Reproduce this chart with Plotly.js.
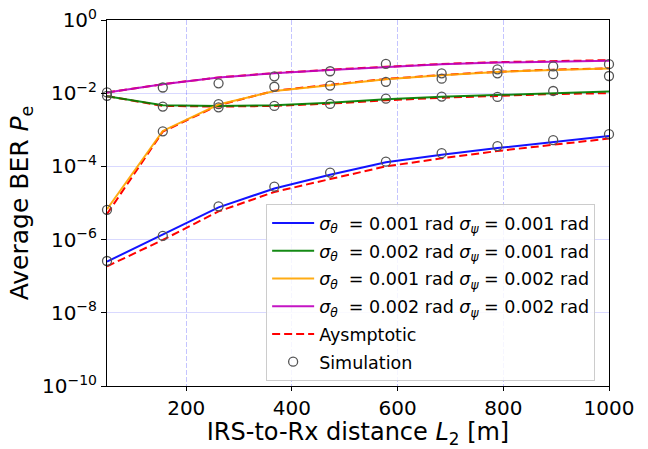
<!DOCTYPE html>
<html>
<head>
<meta charset="utf-8">
<script src="https://cdn.plot.ly/plotly-3.0.1.min.js"></script>
<style>html,body{margin:0;padding:0;background:#fff}#chart{width:648px;height:449px}</style>
</head>
<body>
<div id="chart"></div>
<script>
// IRS-to-Rx distance L2 [m]
const distance = [50, 155.6, 261.1, 366.7, 472.2, 577.8, 683.3, 788.9, 894.4, 1000];

// Analytical BER curves (solid lines)
const berA = [2.5e-7, 1.41e-6, 7.6e-6, 2.5e-5, 5.9e-5, 1.29e-4, 2.07e-4, 3.16e-4, 4.68e-4, 6.76e-4]; // 0.001 / 0.001
const berB = [8.3e-3, 4.7e-3, 4.5e-3, 4.7e-3, 5.5e-3, 6.8e-3, 8.0e-3, 8.8e-3, 1.0e-2, 1.11e-2];       // 0.002 / 0.001
const berC = [6.8e-6, 9.3e-4, 4.9e-3, 1.15e-2, 1.66e-2, 2.4e-2, 3.1e-2, 3.8e-2, 4.3e-2, 4.7e-2];      // 0.001 / 0.002
const berD = [1.05e-2, 1.76e-2, 2.69e-2, 3.51e-2, 4.32e-2, 5.25e-2, 6.17e-2, 6.87e-2, 7.2e-2, 7.7e-2]; // 0.002 / 0.002

// Asymptotic curves (red dashed)
const asymA = [1.86e-7, 9.8e-7, 5.9e-6, 2.0e-5, 4.5e-5, 1.0e-4, 1.66e-4, 2.63e-4, 3.9e-4, 5.75e-4];
const asymB = [8.3e-3, 4.5e-3, 4.3e-3, 4.5e-3, 5.2e-3, 6.4e-3, 7.5e-3, 8.4e-3, 9.5e-3, 1.0e-2];
const asymC = [5.0e-6, 8.9e-4, 4.7e-3, 1.17e-2, 1.7e-2, 2.45e-2, 3.15e-2, 3.85e-2, 4.4e-2, 4.8e-2];
const asymD = [1.05e-2, 1.76e-2, 2.7e-2, 3.55e-2, 4.4e-2, 5.35e-2, 6.3e-2, 7.05e-2, 7.5e-2, 8.0e-2];

// Simulation points (open circles)
const simA = [2.6e-7, 1.26e-6, 8.1e-6, 2.8e-5, 6.8e-5, 1.35e-4, 2.3e-4, 3.6e-4, 5.2e-4, 7.6e-4];
const simB = [8.5e-3, 4.3e-3, 4.1e-3, 4.5e-3, 5.1e-3, 7.1e-3, 8.1e-3, 7.9e-3, 1.15e-2, null];
const simC = [6.5e-6, 9.1e-4, 5.0e-3, 1.5e-2, 1.62e-2, 2.04e-2, 2.5e-2, 3.5e-2, 3.3e-2, 2.95e-2];
const simD = [1.05e-2, 1.43e-2, 1.86e-2, 2.9e-2, 3.98e-2, 6.3e-2, 3.5e-2, 4.5e-2, 5.4e-2, 6.2e-2];

const seriesLabels = [
  '<i>σ</i><sub><i>θ</i></sub>  = 0.001 rad <i>σ</i><sub><i>ψ</i></sub> = 0.001 rad',
  '<i>σ</i><sub><i>θ</i></sub>  = 0.002 rad <i>σ</i><sub><i>ψ</i></sub> = 0.001 rad',
  '<i>σ</i><sub><i>θ</i></sub>  = 0.001 rad <i>σ</i><sub><i>ψ</i></sub> = 0.002 rad',
  '<i>σ</i><sub><i>θ</i></sub>  = 0.002 rad <i>σ</i><sub><i>ψ</i></sub> = 0.002 rad'
];
const seriesColors = ['#0000ff', '#008000', '#ffa500', '#bf00bf'];

const yTickVals = [1e-10, 1e-8, 1e-6, 1e-4, 1e-2, 1];
const yTickText = ['10<sup>−10</sup>', '10<sup>−8</sup>', '10<sup>−6</sup>', '10<sup>−4</sup>', '10<sup>−2</sup>', '10<sup>0</sup>'];
const xTickVals = [200, 400, 600, 800, 1000];

const lines = [berA, berB, berC, berD];
const asyms = [asymA, asymB, asymC, asymD];
const sims = [simA, simB, simC, simD];

const traces = [];
asyms.forEach((y, i) => traces.push({
  x: distance, y: y, mode: 'lines', name: 'Aysmptotic', legendgroup: 'asym', showlegend: i === 0, legendrank: 5,
  line: {color: '#ff0000', width: 2, dash: '8px,4px'}
}));
lines.forEach((y, i) => traces.push({
  x: distance, y: y, mode: 'lines', name: seriesLabels[i], legendgroup: 'g' + i, legendrank: i + 1,
  line: {color: seriesColors[i], width: 2}, opacity: 0.92
}));
sims.forEach((y, i) => traces.push({
  x: distance, y: y, mode: 'markers', name: 'Simulation', legendgroup: 'sim', showlegend: i === 0, legendrank: 6,
  marker: {symbol: 'circle-open', size: 9, color: '#555555', line: {width: 1.3, color: '#555555'}},
  cliponaxis: false
}));

const font = {family: 'DejaVu Sans, sans-serif', color: '#000'};
const layout = {
  width: 648, height: 449,
  margin: {l: 107, r: 39, t: 20, b: 63},
  paper_bgcolor: '#fff', plot_bgcolor: '#fff',
  showlegend: true,
  font: font,
  xaxis: {
    range: [50, 1000], tickvals: xTickVals, ticks: 'outside', ticklen: 4, tickcolor: '#000',
    tickfont: {size: 20, family: font.family, color: '#000'},
    showline: true, linecolor: '#000', linewidth: 1, mirror: true,
    showgrid: true, gridcolor: 'rgba(60,60,255,0.3)', griddash: '5px,2px', gridwidth: 1,
    zeroline: false,
    title: {text: 'IRS-to-Rx distance <i>L</i><sub>2</sub> [m]', font: {size: 24, family: font.family, color: '#000'}, standoff: 9}
  },
  yaxis: {
    type: 'log', range: [-10, 0], tickvals: yTickVals, ticktext: yTickText,
    ticks: 'outside', ticklen: 5, tickcolor: '#000',
    tickfont: {size: 20, family: font.family, color: '#000'},
    showline: true, linecolor: '#000', linewidth: 1, mirror: true,
    showgrid: true, gridcolor: 'rgba(0,0,255,0.15)', gridwidth: 1,
    zeroline: false,
    title: {text: 'Average BER <i>P</i><sub>e</sub>', font: {size: 25, family: font.family, color: '#000'}, standoff: 6}
  },
  legend: {
    x: 0.317, y: 0.497, xanchor: 'left', yanchor: 'top',
    bgcolor: 'rgba(255,255,255,0.85)', bordercolor: '#cccccc', borderwidth: 1,
    font: {size: 17.5, family: font.family, color: '#000'},
    traceorder: 'grouped', tracegroupgap: 2, itemwidth: 42
  }
};

Plotly.newPlot('chart', traces, layout, {staticPlot: true, displayModeBar: false});
</script>
</body>
</html>
